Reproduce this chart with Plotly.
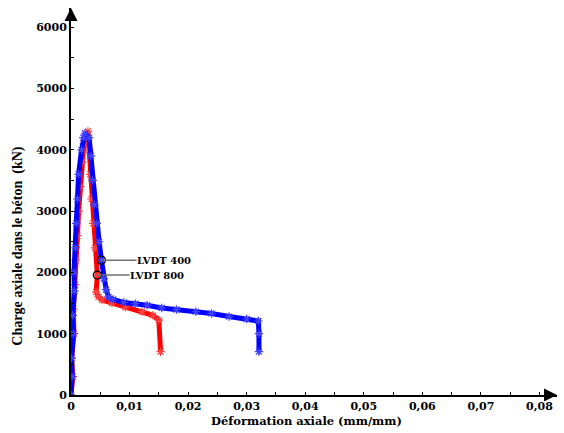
import plotly.graph_objects as go

# LVDT 400 (blue)
x_400 = [0, 0.0002, 0.0001, 0.0004, 0.0003, 0.0006, 0.0005, 0.0008, 0.0009, 0.0011, 0.0013, 0.0018, 0.0021,
         0.0024, 0.0031, 0.0034, 0.0037, 0.0040, 0.0044, 0.0048, 0.0052, 0.0056, 0.0060, 0.0064, 0.0072,
         0.0090, 0.0110, 0.0130, 0.0155, 0.0180, 0.0213, 0.0240, 0.0270, 0.0300, 0.0320, 0.0321, 0.0321]
y_400 = [0, 300, 600, 1000, 1300, 1700, 2000, 2400, 2800, 3200, 3600, 4000, 4200,
         4270, 4200, 3900, 3500, 3100, 2800, 2500, 2200, 1900, 1720, 1600, 1560,
         1510, 1490, 1465, 1420, 1395, 1360, 1330, 1280, 1240, 1207, 1000, 706]

# LVDT 800 (red)
x_800 = [0, 0.0003, 0.0001, 0.0005, 0.0004, 0.0007, 0.0008, 0.0011, 0.0013, 0.0016, 0.0019, 0.0022,
         0.0029, 0.0031, 0.0033, 0.0035, 0.0038, 0.0041, 0.0045, 0.0043, 0.0047, 0.0053, 0.0070,
         0.0093, 0.0121, 0.0140, 0.0150, 0.0153]
y_800 = [0, 300, 600, 1000, 1400, 1800, 2200, 2600, 3000, 3400, 3800, 4100,
         4300, 4000, 3600, 3200, 2800, 2400, 1957, 1680, 1600, 1550, 1500,
         1430, 1360, 1300, 1223, 706]

label_names = ["LVDT 400", "LVDT 800"]
label_pts_x = [0.0052, 0.0045]
label_pts_y = [2200, 1957]
label_text_x = [0.0112, 0.0100]

x_tickvals = [0, 0.01, 0.02, 0.03, 0.04, 0.05, 0.06, 0.07, 0.08]
x_ticktext = ["0", "0,01", "0,02", "0,03", "0,04", "0,05", "0,06", "0,07", "0,08"]
y_tickvals = [0, 1000, 2000, 3000, 4000, 5000, 6000]

x_title = "Déformation axiale (mm/mm)"
y_title = "Charge axiale dans le béton  (kN)"

FONT = "DejaVu Serif"

fig = go.Figure()
fig.add_trace(go.Scatter(x=x_800, y=y_800, mode="lines+markers",
                         line=dict(color="#ff0000", width=5),
                         marker=dict(symbol="asterisk-open", size=7, color="#ff4040", line=dict(width=1.2, color="#ff4040")),
                         showlegend=False))
fig.add_trace(go.Scatter(x=x_400, y=y_400, mode="lines+markers",
                         line=dict(color="#0000ff", width=5),
                         marker=dict(symbol="asterisk-open", size=7, color="#4040ff", line=dict(width=1.2, color="#4040ff")),
                         showlegend=False))

for i in range(2):
    fig.add_shape(type="line", x0=label_pts_x[i], y0=label_pts_y[i], x1=label_text_x[i], y1=label_pts_y[i],
                  line=dict(color="#707070", width=1.5))
    fig.add_annotation(x=label_text_x[i], y=label_pts_y[i], text=label_names[i], showarrow=False,
                       xanchor="left", yanchor="middle", xshift=-2,
                       font=dict(family=FONT, size=10, color="black", weight="bold"))

fig.add_trace(go.Scatter(x=label_pts_x, y=label_pts_y, mode="markers",
                         marker=dict(symbol="circle-open", size=8, color="black", line=dict(width=1.3)),
                         showlegend=False))

# axis arrows
fig.add_annotation(x=1, y=0, xref="paper", yref="paper", ax=-14, ay=0, showarrow=True,
                   arrowhead=2, arrowsize=1.3, arrowwidth=2, arrowcolor="black", text="")
fig.add_annotation(x=0, y=1, xref="paper", yref="paper", ax=0, ay=14, showarrow=True,
                   arrowhead=2, arrowsize=1.3, arrowwidth=2, arrowcolor="black", text="")

# axis titles (positioned like the reference)
fig.add_annotation(x=0.0402, y=0, yref="paper", yshift=-26, text=x_title, showarrow=False,
                   xanchor="center", yanchor="middle",
                   font=dict(family=FONT, size=11.5, color="black", weight="bold"))
fig.add_annotation(x=0, xref="paper", y=2420, xshift=-53, text=y_title, showarrow=False, textangle=-90,
                   xanchor="center", yanchor="middle",
                   font=dict(family="Liberation Serif", size=14, color="black", weight="bold"))

fig.update_xaxes(range=[0, 0.083], tickvals=x_tickvals, ticktext=x_ticktext, automargin=False,
                 showline=True, linecolor="black", linewidth=2, showgrid=False, zeroline=False,
                 ticks="inside", ticklen=3, tickcolor="black",
                 minor=dict(dtick=0.005, ticks="inside", ticklen=3, tickcolor="black", showgrid=False),
                 tickfont=dict(family=FONT, size=11, color="black", weight="bold"))
fig.update_yaxes(range=[0, 6313], tickvals=y_tickvals, automargin=False,
                 showline=True, linecolor="black", linewidth=2, showgrid=False, zeroline=False,
                 ticks="inside", ticklen=3, tickcolor="black",
                 minor=dict(dtick=500, ticks="inside", ticklen=3, tickcolor="black", showgrid=False),
                 tickfont=dict(family=FONT, size=11, color="black", weight="bold"))

fig.update_layout(width=564, height=433, margin=dict(l=71, r=7, t=8, b=38),
                  plot_bgcolor="white", paper_bgcolor="white", showlegend=False)

fig.write_html("out.html", config={"displayModeBar": False},
               post_script="document.body.style.margin='0';document.body.style.overflow='hidden';")
